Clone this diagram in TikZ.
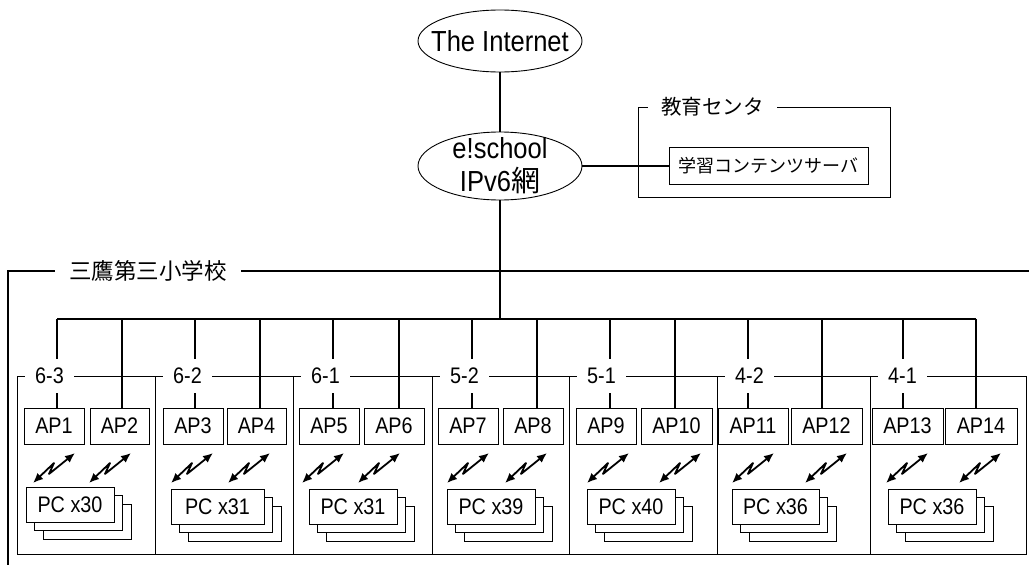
\documentclass[tikz,border=0pt]{standalone}
\usepackage{fontspec}
\setmainfont{Liberation Sans}[FakeStretch=0.88]
\newfontfamily\cjk{Noto Sans CJK JP}
\usetikzlibrary{shapes.geometric,arrows.meta}
\begin{document}
\begin{tikzpicture}[x=1pt,y=-1pt,
  ell/.style={draw,ellipse,line width=0.9pt,inner sep=-16pt,align=center,font=\fontsize{29}{33}\selectfont},
  apbox/.style={draw,line width=0.8pt,minimum height=36pt,inner sep=0pt,font=\fontsize{22.5}{26}\selectfont},
  lbl/.style={fill=white,inner xsep=10pt,inner ysep=0pt,minimum height=34pt,anchor=west,font=\fontsize{22.5}{26}\selectfont},
  pcb/.style={draw,fill=white,line width=0.8pt,minimum height=35pt,inner sep=0pt,font=\fontsize{22.5}{26}\selectfont},
  wl/.style={line width=1.8pt,line join=round,{Latex[length=10pt,width=8.5pt]}-{Latex[length=10pt,width=8.5pt]}},
  wire/.style={line width=1.1pt},
  clbox/.style={line width=1pt},
  school/.style={line width=1.8pt}]
\useasboundingbox (0,0) rectangle (1029,565);

% top ellipses
\node[ell,minimum width=164pt,minimum height=62pt] (inet) at (500,41) {The Internet};
\node[ell,minimum width=164pt,minimum height=68pt] (es) at (500,166) {e!school\\IPv6{\cjk 網}};
\draw[wire] (inet) -- (es);

% education center
\draw[clbox] (638,107) rectangle (890,197);
\node[fill=white,inner xsep=13pt,inner ysep=0pt,minimum height=20pt,anchor=west,font=\cjk\fontsize{20.5}{24}\selectfont] (edu) at (648,107) {教育センタ};
\node[draw,line width=0.8pt,minimum width=199pt,minimum height=37pt,inner sep=0pt,font=\cjk\fontsize{18}{22}\selectfont] (srv) at (768.5,166) {学習コンテンツサーバ};
\draw[wire] (es.east) -- (srv.west);

% school frame
\draw[school] (1029,271) -- (8,271) -- (8,565);
\node[fill=white,inner xsep=14pt,inner ysep=0pt,minimum height=24pt,anchor=west,font=\cjk\fontsize{22.5}{26}\selectfont] (sch) at (55,271) {三鷹第三小学校};

% AP boxes
\foreach \c/\w/\t [count=\i] in {54/60/AP1,119.5/59/AP2,193/60/AP3,256.5/59/AP4,329/60/AP5,394/60/AP6,468/60/AP7,533/60/AP8,606/60/AP9,676.5/71/AP10,753/70/AP11,826.5/71/AP12,907.5/71/AP13,981/72/AP14}
  \node[apbox,minimum width=\w pt] (ap\i) at (\c,426) {\t};

% bus and drops
\foreach \x [count=\i] in {57,122,195,260,333,399,472,537,610,675,748,822,903,976}
  \coordinate (b\i) at (\x,319);
\draw[wire] (b1) -- (b14);
\draw[wire] (es.south) -- (es.south |- b1);
\foreach \i in {1,...,14}
  \draw[wire] (b\i) -- (b\i |- ap\i.north);

% class boxes with labels
\foreach \a/\b/\lab [count=\i] in {17/155/6-3,155/293/6-2,293/432/6-1,432/569/5-2,569/717/5-1,717/870/4-2,870/1026/4-1}{
  \draw[clbox] (\a,376) rectangle (\b,554);
  \node[lbl] (cl\i) at (\a+8,376) {\lab};
}

% wireless links
\foreach \x [count=\i] in {33,89,171,228,302,358,447,505,587,659,732,805,886,959}{
  \coordinate (w\i) at (\x,483);
  \draw[wl] (w\i) -- ++(21,-20) -- ++(-5,11) -- ++(26,-21);
}

% PC stacks
\foreach \l/\t/\w/\txt [count=\i] in {26/487/88/PC x30,171/489/93/PC x31,309/489/88/PC x31,447/489/88/PC x39,587/489/88/PC x40,732/489/87/PC x36,888/489/88/PC x36}{
  \node[pcb,minimum width=\w pt] (pc\i c) at (\l+\w/2+17,\t+17.5+17) {};
  \node[pcb,minimum width=\w pt] (pc\i b) at (\l+\w/2+8.5,\t+17.5+8.5) {};
  \node[pcb,minimum width=\w pt] (pc\i a) at (\l+\w/2,\t+17.5) {\txt};
}
\end{tikzpicture}
\end{document}
